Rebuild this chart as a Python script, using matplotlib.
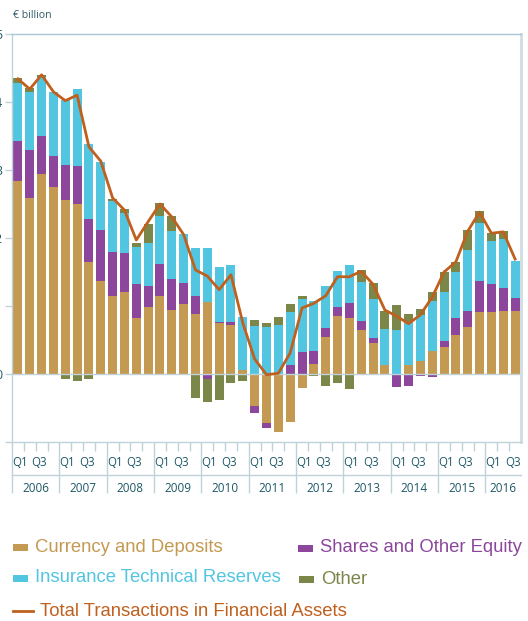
import numpy as np
import matplotlib
matplotlib.use("Agg")
import matplotlib.pyplot as plt
from matplotlib.patches import Rectangle
from matplotlib.lines import Line2D

# ---------------- data (EUR billion, quarterly 2006Q1 - 2016Q3) ----------------
years = ["2006", "2007", "2008", "2009", "2010", "2011", "2012", "2013", "2014", "2015", "2016"]
quarter_labels = ["Q1", "Q3"]

currency = [2.84, 2.59, 2.94, 2.75, 2.56, 2.50, 1.65, 1.37, 1.15, 1.21, 0.82, 0.99, 1.15, 0.94,
            1.03, 0.88, 1.06, 0.75, 0.72, 0.06, -0.47, -0.72, -0.85, -0.71, -0.21, 0.15, 0.54,
            0.85, 0.82, 0.65, 0.46, 0.13, 0.00, 0.13, 0.19, 0.34, 0.40, 0.57, 0.69, 0.91, 0.91,
            0.93, 0.93]
shares = [0.59, 0.71, 0.56, 0.46, 0.51, 0.56, 0.63, 0.75, 0.65, 0.57, 0.51, 0.31, 0.47, 0.46,
          0.31, 0.26, -0.07, 0.02, 0.04, -0.02, -0.10, -0.07, 0.00, 0.13, 0.32, 0.19, 0.13,
          0.13, 0.22, 0.13, 0.07, 0.00, -0.19, -0.18, -0.03, -0.05, 0.09, 0.25, 0.24, 0.46,
          0.41, 0.34, 0.19]
insurance = [0.85, 0.84, 0.87, 0.93, 0.96, 1.13, 1.10, 1.00, 0.75, 0.59, 0.54, 0.62, 0.71, 0.71,
             0.72, 0.71, 0.79, 0.81, 0.85, 0.78, 0.71, 0.69, 0.72, 0.78, 0.79, 0.74, 0.63,
             0.54, 0.57, 0.57, 0.57, 0.53, 0.65, 0.63, 0.68, 0.74, 0.72, 0.68, 0.90, 0.85,
             0.63, 0.71, 0.54]
other = [0.08, 0.06, 0.03, 0.00, -0.07, -0.10, -0.07, -0.01, 0.03, 0.06, 0.06, 0.28, 0.18, 0.21,
         -0.02, -0.35, -0.34, -0.38, -0.13, -0.08, 0.09, 0.06, 0.12, 0.12, 0.03, -0.03, -0.18,
         -0.13, -0.22, 0.18, 0.24, 0.26, 0.37, 0.12, 0.09, 0.12, 0.29, 0.15, 0.29, 0.18, 0.12,
         0.13, 0.00]
total = [4.34, 4.19, 4.40, 4.15, 4.02, 4.10, 3.34, 3.13, 2.59, 2.41, 1.97, 2.24, 2.50, 2.31,
         2.05, 1.53, 1.44, 1.24, 1.46, 0.75, 0.22, -0.01, 0.01, 0.31, 0.97, 1.04, 1.15, 1.43,
         1.43, 1.51, 1.32, 0.94, 0.85, 0.74, 0.87, 1.13, 1.50, 1.65, 2.10, 2.38, 2.07, 2.09,
         1.69]

series = [("Currency and Deposits", currency, "#C49A52"),
          ("Shares and Other Equity", shares, "#8C479C"),
          ("Insurance Technical Reserves", insurance, "#52C5E0"),
          ("Other", other, "#7A8748")]
line_color = "#C0601E"
axis_color = "#BFD2DA"
text_teal = "#1E5866"

W, H = 528, 621
fig = plt.figure(figsize=(W / 100, H / 100), dpi=100)
fig.patch.set_facecolor("white")

def fx(px):
    return px / W

def fy(py):
    return 1 - py / H

ax = fig.add_axes([fx(12), fy(442), fx(521) - fx(12), fy(34) - fy(442)])
n = len(total)
x = np.arange(n)

pos_base = np.zeros(n)
neg_base = np.zeros(n)
for name, vals, col in series:
    v = np.array(vals, dtype=float)
    base = np.where(v >= 0, pos_base, neg_base)
    ax.bar(x, v, width=0.76, bottom=base, color=col, linewidth=0, zorder=2)
    pos_base = pos_base + np.where(v > 0, v, 0)
    neg_base = neg_base + np.where(v < 0, v, 0)

ax.axhline(0, color=axis_color, lw=1.0, zorder=2.5)
ax.plot(x, total, color=line_color, lw=2.0, zorder=4, solid_joinstyle="round")

ax.set_xlim(-0.5, n - 0.5)
ax.set_ylim(-1, 5)

# spines
ax.spines["top"].set_color("#A9C8D5")
ax.spines["top"].set_linewidth(1.0)
ax.spines["right"].set_color("#D0DCE1")
ax.spines["right"].set_linewidth(2.0)
ax.spines["left"].set_color(axis_color)
ax.spines["bottom"].set_color(axis_color)
ax.spines["left"].set_linewidth(1.0)
ax.spines["bottom"].set_linewidth(1.0)

# y ticks (labels mostly clipped by the figure edge as in the reference)
ax.set_yticks(range(-1, 6))
ax.tick_params(axis="y", length=5.0, width=1.0, color=axis_color, labelcolor=text_teal,
               labelsize=9, pad=2.2)
for lab in ax.get_yticklabels():
    lab.set_fontfamily("Open Sans")

# x ticks: quarter boundaries (minor) and year boundaries (major)
year_bounds = [k - 0.5 for k in range(0, n, 4)]
quarter_bounds = [k - 0.5 for k in range(1, n) if k % 4 != 0]
ax.set_xticks(year_bounds)
ax.set_xticks(quarter_bounds, minor=True)
ax.tick_params(axis="x", which="major", length=36.7, width=1.0, color=axis_color,
               labelbottom=False)
ax.tick_params(axis="x", which="minor", length=6.5, width=1.0, color=axis_color,
               labelbottom=False)

trans = ax.get_xaxis_transform()
def ay(py):
    return (442 - py) / 408.0

for yi, yr in enumerate(years):
    start = yi * 4
    for qi, ql in zip([0, 2], quarter_labels):
        idx = start + qi
        if idx < n:
            off = 0.17 if qi == 0 else -0.2
            ax.text(idx + off, ay(463), ql, transform=trans, ha="center", va="center",
                    fontsize=8.3, color=text_teal, fontfamily="Open Sans", clip_on=False)
    end = min(start + 4, n)
    ax.text((start + end - 1) / 2.0, ay(489), yr, transform=trans, ha="center", va="center",
            fontsize=8.5, color=text_teal, fontfamily="Open Sans", clip_on=False)

fig.add_artist(Line2D([fx(12), fx(521)], [fy(475), fy(475)], color=axis_color, lw=1.0))

# unit label
fig.text(fx(13), fy(16), "€ billion", fontsize=7.6, color="#2F5D6B", fontfamily="Open Sans",
         ha="left", va="center")

# legend
legend_items = [
    ("Currency and Deposits", "#C49A52", 13, 35, 547, "patch"),
    ("Shares and Other Equity", "#8C479C", 298, 320, 548, "patch"),
    ("Insurance Technical Reserves", "#52C5E0", 13, 35, 578, "patch"),
    ("Other", "#7A8748", 299, 321, 579, "patch"),
    ("Total Transactions in Financial Assets", line_color, 13, 40, 611, "line"),
]
for label, col, mx, tx, cy, kind in legend_items:
    if kind == "patch":
        fig.add_artist(Rectangle((fx(mx), fy(cy + 3.5)), fx(15), 7 / H, color=col, lw=0))
    else:
        fig.add_artist(Line2D([fx(mx), fx(mx + 20)], [fy(cy), fy(cy)], color=col, lw=2.0))
    fig.text(fx(tx), fy(cy), label, fontsize=13.3, color=col, fontfamily="Liberation Sans",
             ha="left", va="center")

fig.savefig("out.png", dpi=100, facecolor="white")
